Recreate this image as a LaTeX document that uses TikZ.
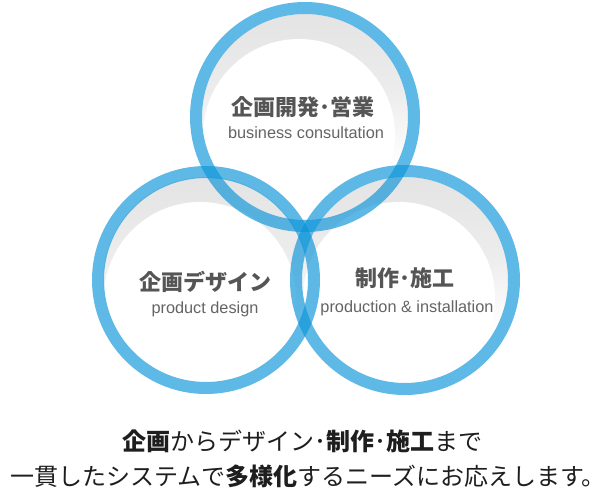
\documentclass[tikz,border=0pt]{standalone}
\usepackage{fontspec}
\setmainfont{Liberation Sans}
\newfontfamily\jp{Noto Sans CJK JP}
\usetikzlibrary{calc}
\definecolor{ringblue}{RGB}{11,148,217}
\definecolor{greyshade}{RGB}{228,228,228}
\definecolor{headgray}{RGB}{85,85,85}
\definecolor{subgray}{RGB}{100,100,100}
\definecolor{bodyblack}{RGB}{30,30,30}
\tikzset{
  ring/.style={draw=ringblue, draw opacity=0.66, line width=12pt},
  headtxt/.style={text=headgray, font=\jp\bfseries\fontsize{22}{26}\selectfont, inner sep=0pt},
  subtxt/.style={text=subgray, font=\fontsize{16.3}{19}\selectfont, inner sep=0pt},
  bodytxt/.style={text=bodyblack, font=\jp\fontsize{24}{28}\selectfont, inner sep=0pt}
}
\newcommand{\bubblefill}[1]{%
  \begin{scope}
    \clip (#1) circle (103);
    \fill[white] (#1) circle (103);
    \shade[top color=greyshade, bottom color=white, middle color=greyshade!70!white]
      ($(#1)+(-103,-103)$) rectangle ($(#1)+(103,50)$);
    \fill[white] ($(#1)+(-6,18)$) circle (96);
  \end{scope}}
\begin{document}
\begin{tikzpicture}[x=1pt,y=-1pt]
\useasboundingbox (0,0) rectangle (616,497);
\coordinate (T) at (305,117);
\coordinate (L) at (206,280);
\coordinate (R) at (405,280);
\bubblefill{T}
\bubblefill{L}
\bubblefill{R}
\draw[ring] (T) circle (109);
\draw[ring] (L) circle (108);
\draw[ring] (R) circle (109);
\node[headtxt] (th) at (303,107) {企画開発･営業};
\node[subtxt] (ts) at (306,133) {business consultation};
\node[headtxt] (lh) at (205,282) {企画デザイン};
\node[subtxt] (ls) at (205,309) {product design};
\node[headtxt] (rh) at (405,278) {制作･施工};
\node[subtxt] (rs) at (407,308) {production \& installation};
\node[bodytxt] (b1) at (302,441) {{\bfseries 企画}からデザイン･{\bfseries 制作}･{\bfseries 施工}まで};
\node[bodytxt] (b2) at (308,476) {一貫したシステムで{\bfseries 多様化}するニーズにお応えします。};
\end{tikzpicture}
\end{document}
